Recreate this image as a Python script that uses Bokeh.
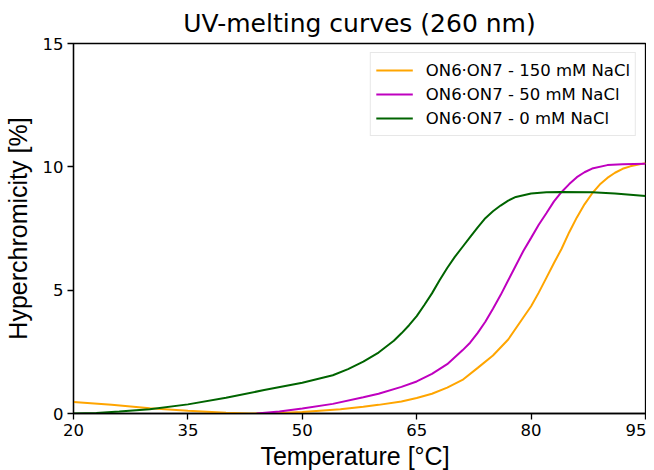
from bokeh.plotting import figure
from bokeh.models import Range1d, FixedTicker, Legend, LegendItem, Div
from bokeh.layouts import column
from bokeh.embed import file_html
from bokeh.resources import INLINE

# ---- data ----
t_150 = [20, 25, 30, 35, 40, 43, 47, 50, 55, 58, 60, 63, 65, 67, 69, 71, 73, 75, 77, 79, 80,
         81, 82, 83, 84, 85, 86, 87, 88, 89, 90, 91, 92, 93, 95]
h_150 = [0.47, 0.35, 0.21, 0.11, 0.03, 0.0, 0.02, 0.06, 0.17, 0.27, 0.35, 0.49, 0.63, 0.8,
         1.05, 1.36, 1.85, 2.35, 3.0, 3.9, 4.35, 4.9, 5.5, 6.1, 6.68, 7.35, 7.95, 8.48, 8.92,
         9.28, 9.55, 9.76, 9.92, 10.02, 10.15]

t_50 = [44, 47, 50, 54, 58, 60, 63, 65, 67, 69, 71, 72, 73, 74, 75, 76, 77, 78, 79, 80,
        81, 82, 83, 84, 85, 86, 87, 88, 90, 92, 95]
h_50 = [0.0, 0.08, 0.2, 0.39, 0.66, 0.8, 1.08, 1.3, 1.61, 2.0, 2.56, 2.87, 3.27, 3.72,
        4.25, 4.8, 5.4, 6.0, 6.6, 7.12, 7.65, 8.12, 8.6, 8.98, 9.3, 9.58, 9.78, 9.93,
        10.07, 10.1, 10.12]

t_0 = [20, 23, 26, 30, 35, 40, 45, 50, 54, 56, 58, 60, 62, 63, 64, 65, 66, 67, 68, 69, 70,
       71, 72, 73, 74, 75, 76, 77, 78, 80, 82, 84, 88, 91, 95]
h_0 = [0.0, 0.02, 0.08, 0.17, 0.37, 0.64, 0.95, 1.25, 1.55, 1.8, 2.1, 2.47, 2.95, 3.25,
       3.58, 3.95, 4.4, 4.87, 5.4, 5.9, 6.35, 6.75, 7.15, 7.55, 7.92, 8.2, 8.43, 8.63, 8.78,
       8.92, 8.97, 8.98, 8.97, 8.92, 8.82]

labels = ["ON6\u00b7ON7 - 150 mM NaCl", "ON6\u00b7ON7 - 50 mM NaCl", "ON6\u00b7ON7 - 0 mM NaCl"]
colors = ["#FFA500", "#BF00BF", "#006400"]
x_ticks = [20, 35, 50, 65, 80, 95]
y_ticks = [0, 5, 10, 15]
x_title = "Temperature [\u00b0C]"
y_title = "Hyperchromicity [%]"

p = figure(width=646, height=443, output_backend="svg", toolbar_location=None,
           x_range=Range1d(20, 95), y_range=Range1d(0, 15),
           min_border_left=69, min_border_right=1, min_border_top=43, min_border_bottom=30,
           title="UV-melting curves (260 nm)")

p.title.align = "center"
p.title.text_font = "DejaVu Sans"
p.title.text_font_size = "25px"
p.title.text_font_style = "normal"
p.title.text_color = "black"
p.title.standoff = 12

p.xgrid.visible = False
p.ygrid.visible = False
p.outline_line_color = "black"
p.outline_line_width = 1.3

r1 = p.line(t_150, h_150, line_color=colors[0], line_width=2)
r2 = p.line(t_50, h_50, line_color=colors[1], line_width=2)
r3 = p.line(t_0, h_0, line_color=colors[2], line_width=2)

for ax in (p.xaxis[0], p.yaxis[0]):
    ax.axis_line_color = "black"
    ax.axis_line_width = 1.3
    ax.major_tick_line_color = "black"
    ax.major_tick_line_width = 1.3
    ax.major_tick_out = 6
    ax.major_tick_in = 0
    ax.minor_tick_line_color = None
    ax.major_label_text_font = "DejaVu Sans"
    ax.major_label_text_font_size = "16.5px"
    ax.major_label_text_color = "black"
    ax.major_label_standoff = 4
    ax.axis_label_text_font = "Liberation Sans"
    ax.axis_label_text_font_size = "25px"
    ax.axis_label_text_font_style = "normal"
    ax.axis_label_text_color = "black"

p.xaxis.ticker = FixedTicker(ticks=x_ticks)
p.yaxis.ticker = FixedTicker(ticks=y_ticks)
p.yaxis.axis_label = y_title
p.yaxis.axis_label_standoff = 8

legend = Legend(items=[LegendItem(label=labels[0], renderers=[r1]),
                       LegendItem(label=labels[1], renderers=[r2]),
                       LegendItem(label=labels[2], renderers=[r3])],
                location="top_right")
legend.label_text_font = "DejaVu Sans"
legend.label_text_font_size = "16.5px"
legend.label_text_color = "black"
legend.glyph_width = 37
legend.glyph_height = 24
legend.label_height = 24
legend.spacing = 0
legend.padding = 5
legend.margin = 9
legend.label_standoff = 13
legend.border_line_color = "#d0d0d0"
legend.border_line_width = 1
legend.background_fill_alpha = 0.8
p.add_layout(legend)

# x-axis title below the plot, sitting at the bottom edge of the window like the original
xlabel = Div(text=x_title, width=646, height=27, margin=0,
             styles={"text-align": "center", "padding-left": "64px", "box-sizing": "border-box",
                     "font-family": "Liberation Sans", "font-size": "25px", "line-height": "27px",
                     "color": "black", "overflow": "visible", "white-space": "nowrap"})

layout = column(p, xlabel, spacing=0)

open("out.html", "w").write(file_html(layout, INLINE))
